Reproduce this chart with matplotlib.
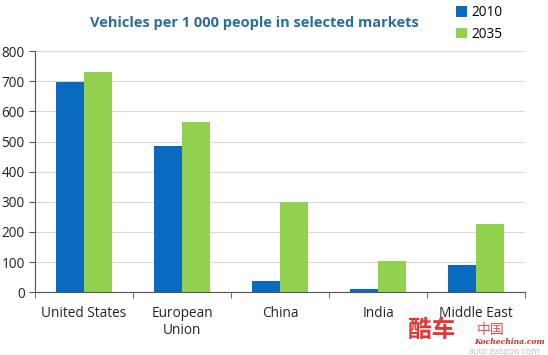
import numpy as np
import matplotlib.pyplot as plt

plt.rcParams['font.family'] = ['Open Sans', 'DejaVu Sans']

markets = ["United States", "European\nUnion", "China", "India", "Middle East"]
years = ["2010", "2035"]
vals_2010 = [697, 485, 37, 10, 90]
vals_2035 = [730, 564, 299, 103, 226]

blue = "#0A6ABF"
green = "#92D050"

fig = plt.figure(figsize=(5.48, 3.55), dpi=100)
ax = fig.add_axes([0.064, 0.177, 0.894, 0.679])

x = np.arange(len(markets))
w = 0.29
ax.bar(x - w / 2, vals_2010, w, color=blue, label=years[0])
ax.bar(x + w / 2, vals_2035, w, color=green, label=years[1])

ax.set_xlim(-0.5, len(markets) - 0.5)
ax.set_ylim(0, 800)
ax.set_yticks(range(0, 801, 100))
ax.yaxis.grid(True, color="#d9d9d9", lw=0.8)
ax.set_axisbelow(True)

ax.set_xticks(x)
ax.set_xticklabels(markets, fontsize=9.8, color="#222222")
ax.tick_params(axis="x", length=0, pad=10)
ax.set_xticks(np.arange(-0.5, len(markets)), minor=True)
ax.tick_params(axis="x", which="minor", length=4, direction="out", color="#555555")
ax.tick_params(axis="y", labelsize=9.8, labelcolor="#222222", length=4, color="#555555")

for s in ["top", "right"]:
    ax.spines[s].set_visible(False)
for s in ["left", "bottom"]:
    ax.spines[s].set_color("#555555")

fig.text(0.465, 0.935, "Vehicles per 1 000 people in selected markets",
         ha="center", va="center", fontsize=10.5, fontweight="bold", color="#2A6F9C")
fig.legend(loc="upper left", bbox_to_anchor=(0.81, 1.02), frameon=False,
           fontsize=9.8, handlelength=0.8, handleheight=0.8, handletextpad=0.3,
           labelspacing=0.5)

# watermark
fig.text(0.745, 0.05, "酷车", fontsize=17, color="#e02020", fontweight="bold",
         family=["Noto Sans CJK SC"], alpha=0.9)
fig.text(0.87, 0.058, "中国", fontsize=10, color="#e02020",
         family=["Noto Sans CJK SC"], alpha=0.8)
fig.text(0.865, 0.03, "Kochechina.com", fontsize=5.5, color="#c03030",
         style="italic", fontweight="bold", family=["DejaVu Serif"])
fig.text(0.855, 0.002, "auto.gasgoo.com", fontsize=6.5, color="#c0c4cc")

fig.savefig("out.png", dpi=100)
